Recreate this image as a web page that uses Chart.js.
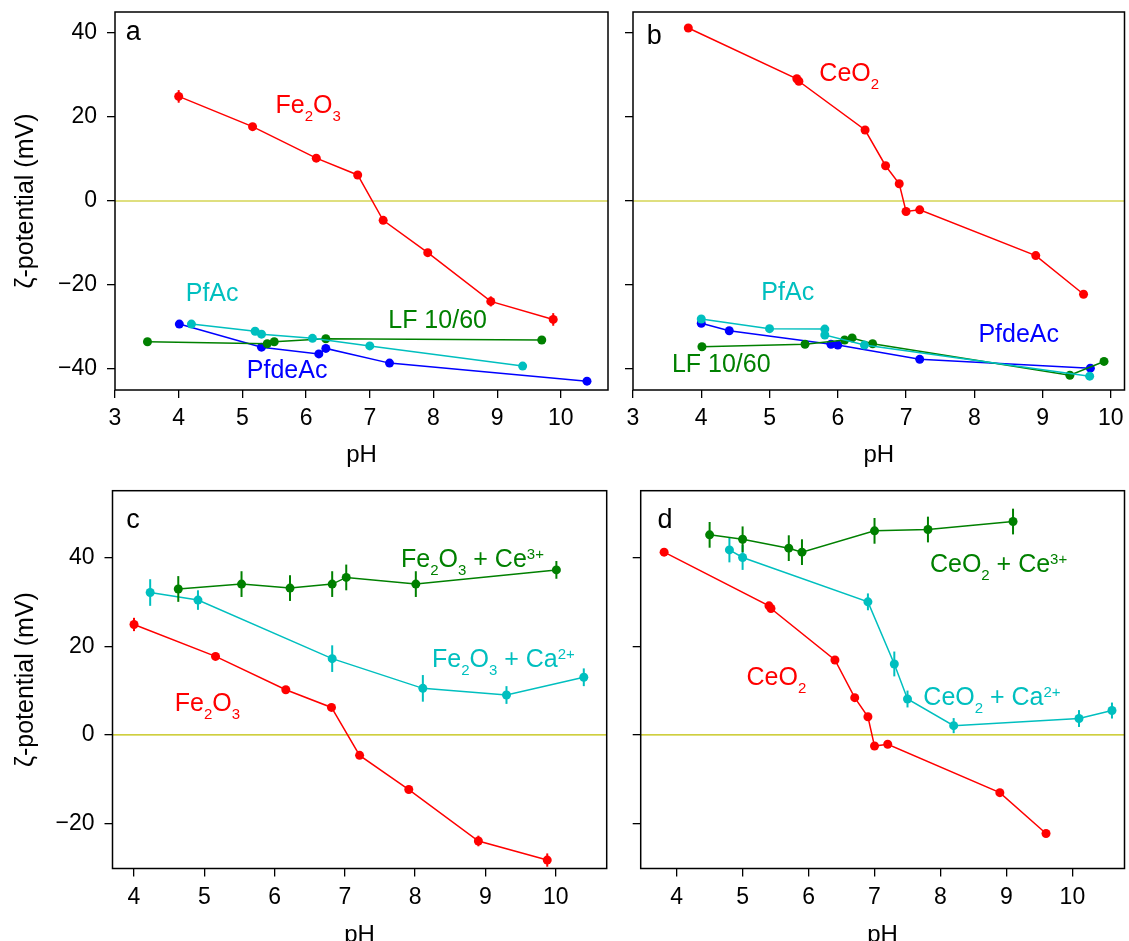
<!DOCTYPE html>
<html>
<head>
<meta charset="utf-8">
<script src="https://cdn.jsdelivr.net/npm/chart.js@4.4.1/dist/chart.umd.min.js"></script>
<style>
  html, body { margin: 0; padding: 0; background: #fff; overflow: hidden; }
  canvas { position: absolute; }
</style>
</head>
<body>
<canvas id="panelA" width="620" height="470" style="left:0px;top:0px"></canvas>
<canvas id="panelB" width="509" height="470" style="left:620px;top:0px"></canvas>
<canvas id="panelC" width="620" height="480" style="left:0px;top:470px"></canvas>
<canvas id="panelD" width="509" height="480" style="left:620px;top:470px"></canvas>
<script>
// ---- data (pH, zeta potential in mV, error in mV) ----
const fe2o3PH   = [4.0, 5.16, 6.16, 6.81, 7.21, 7.91, 8.9, 9.88];
const fe2o3Zeta = [24.9, 17.7, 10.2, 6.2, -4.6, -12.3, -23.9, -28.2];
const fe2o3Err  = [1.5, 0.8, 0.8, 0.8, 0.8, 0.8, 1.2, 1.5];

const ceo2PH   = [3.81, 5.4, 5.43, 6.4, 6.7, 6.9, 7.0, 7.2, 8.9, 9.6];
const ceo2Zeta = [41.2, 29.1, 28.5, 16.9, 8.4, 4.1, -2.5, -2.1, -13.0, -22.2];

// panel a: ligands
const pfacAPH     = [4.2, 5.2, 5.3, 6.1, 7.0, 9.4];
const pfacAZeta   = [-29.3, -31.0, -31.7, -32.7, -34.5, -39.3];
const pfdeacAPH   = [4.01, 5.3, 6.2, 6.31, 7.31, 10.41];
const pfdeacAZeta = [-29.3, -34.8, -36.4, -35.1, -38.6, -42.9];
const lfAPH       = [3.51, 5.39, 5.5, 6.31, 9.7];
const lfAZeta     = [-33.5, -34.0, -33.5, -32.8, -33.1];

// panel b
const pfacBPH     = [4.0, 5.0, 5.81, 5.81, 6.39, 9.69];
const pfacBZeta   = [-28.1, -30.4, -30.5, -31.9, -34.3, -41.7];
const pfdeacBPH   = [4.0, 4.41, 5.9, 6.0, 7.2, 9.7];
const pfdeacBZeta = [-29.1, -30.9, -34.1, -34.3, -37.7, -39.8];
const lfBPH       = [4.01, 5.52, 6.1, 6.21, 6.51, 9.4, 9.9];
const lfBZeta     = [-34.7, -34.1, -33.1, -32.6, -34.0, -41.5, -38.2];

// panel c
const feCePH   = [4.63, 5.53, 6.22, 6.82, 7.02, 8.01, 10.01];
const feCeZeta = [32.9, 34.0, 33.1, 34.0, 35.5, 34.0, 37.2];
const feCeErr  = [2.9, 2.9, 2.9, 2.9, 2.9, 2.9, 2.0];
const feCaPH   = [4.23, 4.91, 6.82, 8.11, 9.3, 10.4];
const feCaZeta = [32.1, 30.4, 17.2, 10.5, 9.0, 13.0];
const feCaErr  = [3.0, 2.2, 3.0, 3.0, 2.0, 2.0];

// panel d
const ceCePH   = [4.5, 5.0, 5.7, 5.9, 7.0, 7.81, 9.1];
const ceCeZeta = [45.1, 44.1, 42.1, 41.2, 46.0, 46.3, 48.1];
const ceCeErr  = [2.9, 2.9, 2.9, 2.9, 2.9, 2.9, 2.9];
const ceCaPH   = [4.8, 5.0, 6.9, 7.3, 7.5, 8.2, 10.1, 10.6];
const ceCaZeta = [41.7, 40.0, 30.0, 16.0, 8.1, 2.1, 3.7, 5.5];
const ceCaErr  = [2.8, 2.8, 1.9, 2.8, 1.9, 1.7, 1.9, 1.8];

const ticksAB_x = [3, 4, 5, 6, 7, 8, 9, 10];
const ticksCD_x = [4, 5, 6, 7, 8, 9, 10];
const ticksAB_y = [-40, -20, 0, 20, 40];
const ticksCD_y = [-20, 0, 20, 40];

const RED = '#ff0000', CYAN = '#00bfbf', GREEN = '#008000', BLUE = '#0000ff';
const FONT = '"Liberation Sans", Arial, Helvetica, sans-serif';

function pts(xs, ys) { return xs.map((x, i) => ({ x: x, y: ys[i] })); }

function series(xs, ys, color, errs) {
  return { data: pts(xs, ys), borderColor: color, backgroundColor: color,
    pointBackgroundColor: color, pointBorderWidth: 0, pointRadius: 4.5,
    borderWidth: 1.5, showLine: true, errors: errs || null };
}

// plugins
const frame = {
  id: 'frame',
  afterDraw(chart) {
    const { ctx, chartArea: a } = chart;
    ctx.save();
    ctx.strokeStyle = '#000'; ctx.lineWidth = 1.5;
    ctx.strokeRect(a.left, a.top, a.right - a.left, a.bottom - a.top);
    ctx.restore();
  }
};
const zeroLine = {
  id: 'zeroLine',
  beforeDatasetsDraw(chart) {
    const { ctx, chartArea: a, scales: { y } } = chart;
    const py = y.getPixelForValue(0);
    ctx.save();
    ctx.strokeStyle = '#bfbf00'; ctx.lineWidth = 1.2;
    ctx.beginPath(); ctx.moveTo(a.left, py); ctx.lineTo(a.right, py); ctx.stroke();
    ctx.restore();
  }
};
const errorBars = {
  id: 'errorBars',
  afterDatasetDraw(chart, args) {
    const ds = chart.data.datasets[args.index];
    if (!ds.errors) return;
    const { ctx, scales: { x, y } } = chart;
    ctx.save();
    ctx.strokeStyle = ds.borderColor; ctx.lineWidth = 2;
    ds.data.forEach((p, j) => {
      const px = x.getPixelForValue(p.x);
      ctx.beginPath();
      ctx.moveTo(px, y.getPixelForValue(p.y - ds.errors[j]));
      ctx.lineTo(px, y.getPixelForValue(p.y + ds.errors[j]));
      ctx.stroke();
    });
    ctx.restore();
  }
};
// text labels with sub/superscripts; parts: [text, 0 normal | -1 sub | 1 sup]
function notes(list) {
  return {
    id: 'notes',
    afterDraw(chart) {
      const { ctx, scales: { x, y } } = chart;
      ctx.save();
      ctx.textBaseline = 'alphabetic'; ctx.textAlign = 'left';
      list.forEach(n => {
        let px = x.getPixelForValue(n.x);
        const py = y.getPixelForValue(n.y);
        ctx.fillStyle = n.color;
        n.parts.forEach(([t, k]) => {
          const size = k === 0 ? (n.size || 25) : 15;
          ctx.font = size + 'px ' + FONT;
          const dy = k === -1 ? 8 : (k === 1 ? -8 : 0);
          ctx.fillText(t, px, py + dy);
          px += ctx.measureText(t).width;
        });
      });
      ctx.restore();
    }
  };
}

function makePanel(id, p) {
  new Chart(document.getElementById(id), {
    type: 'scatter',
    data: { datasets: p.datasets },
    options: {
      responsive: false, animation: false,
      layout: { padding: p.padding },
      plugins: { legend: { display: false }, tooltip: { enabled: false } },
      scales: {
        x: {
          type: 'linear', min: p.xMin, max: p.xMax,
          afterBuildTicks: s => { s.ticks = p.xTicks.map(v => ({ value: v })); },
          afterFit: s => { s.height = p.xHeight; s.paddingLeft = 0; s.paddingRight = 0; },
          grid: { drawOnChartArea: false, drawTicks: true, tickLength: 8, color: '#000', lineWidth: 1.3 },
          border: { display: false },
          ticks: { color: '#000', padding: 7, maxRotation: 0, font: { family: FONT, size: 23 } },
          title: { display: true, text: 'pH', color: '#000', font: { family: FONT, size: 24 }, padding: { top: p.xTitlePad, bottom: 0 } }
        },
        y: {
          type: 'linear', min: p.yMin, max: p.yMax,
          afterBuildTicks: s => { s.ticks = p.yTicks.map(v => ({ value: v })); },
          afterFit: s => { s.width = p.yWidth; s.paddingTop = 0; s.paddingBottom = 0; },
          grid: { drawOnChartArea: false, drawTicks: true, tickLength: 8, color: '#000', lineWidth: 1.3 },
          border: { display: false },
          ticks: { display: p.yLabels, color: '#000', padding: 10, font: { family: FONT, size: 23 },
                   callback: v => String(v).replace('-', '\u2212') },
          title: { display: p.yLabels, text: 'ζ-potential (mV)', color: '#000', font: { family: FONT, size: 25 }, padding: { top: 11, bottom: 0 } }
        }
      }
    },
    plugins: [zeroLine, errorBars, frame, notes(p.notes)]
  });
}

makePanel('panelA', {
  xMin: 3, xMax: 10.74, yMin: -45, yMax: 45, xTicks: ticksAB_x, yTicks: ticksAB_y,
  padding: { left: 0, top: 12, right: 12, bottom: 0 }, yWidth: 115, xHeight: 80, xTitlePad: 3, yLabels: true,
  datasets: [
    series(fe2o3PH, fe2o3Zeta, RED, fe2o3Err),
    series(pfacAPH, pfacAZeta, CYAN),
    series(lfAPH, lfAZeta, GREEN),
    series(pfdeacAPH, pfdeacAZeta, BLUE)
  ],
  notes: [
    { x: 3.17, y: 38.3, color: '#000', size: 27, parts: [['a', 0]] },
    { x: 5.52, y: 20.9, color: RED, parts: [['Fe', 0], ['2', -1], ['O', 0], ['3', -1]] },
    { x: 4.11, y: -23.7, color: CYAN, parts: [['PfAc', 0]] },
    { x: 7.29, y: -30.3, color: GREEN, parts: [['LF 10/60', 0]] },
    { x: 5.07, y: -42.2, color: BLUE, parts: [['PfdeAc', 0]] }
  ]
});

makePanel('panelB', {
  xMin: 3, xMax: 10.2, yMin: -45, yMax: 45, xTicks: ticksAB_x, yTicks: ticksAB_y,
  padding: { left: 0, top: 12, right: 2, bottom: 0 }, yWidth: 13, xHeight: 80, xTitlePad: 3, yLabels: false,
  datasets: [
    series(ceo2PH, ceo2Zeta, RED),
    series(pfacBPH, pfacBZeta, CYAN),
    series(lfBPH, lfBZeta, GREEN),
    series(pfdeacBPH, pfdeacBZeta, BLUE)
  ],
  notes: [
    { x: 3.2, y: 37.5, color: '#000', size: 27, parts: [['b', 0]] },
    { x: 5.73, y: 28.6, color: RED, parts: [['CeO', 0], ['2', -1]] },
    { x: 4.88, y: -23.6, color: CYAN, parts: [['PfAc', 0]] },
    { x: 8.06, y: -33.5, color: BLUE, parts: [['PfdeAc', 0]] },
    { x: 3.57, y: -40.6, color: GREEN, parts: [['LF 10/60', 0]] }
  ]
});

makePanel('panelC', {
  xMin: 3.694, xMax: 10.726, yMin: -30.1, yMax: 55.05, xTicks: ticksCD_x, yTicks: ticksCD_y,
  padding: { left: 0, top: 20.7, right: 13.3, bottom: 0 }, yWidth: 112.5, xHeight: 81.5, xTitlePad: 7, yLabels: true,
  datasets: [
    series(feCePH, feCeZeta, GREEN, feCeErr),
    series(feCaPH, feCaZeta, CYAN, feCaErr),
    series(fe2o3PH, fe2o3Zeta, RED, fe2o3Err)
  ],
  notes: [
    { x: 3.89, y: 46.6, color: '#000', size: 27, parts: [['c', 0]] },
    { x: 7.8, y: 37.9, color: GREEN, parts: [['Fe', 0], ['2', -1], ['O', 0], ['3', -1], [' + Ce', 0], ['3+', 1]] },
    { x: 8.24, y: 15.4, color: CYAN, parts: [['Fe', 0], ['2', -1], ['O', 0], ['3', -1], [' + Ca', 0], ['2+', 1]] },
    { x: 4.58, y: 5.5, color: RED, parts: [['Fe', 0], ['2', -1], ['O', 0], ['3', -1]] }
  ]
});

makePanel('panelD', {
  xMin: 3.455, xMax: 10.79, yMin: -30.1, yMax: 55.05, xTicks: ticksCD_x, yTicks: ticksCD_y,
  padding: { left: 0, top: 20.7, right: 4, bottom: 0 }, yWidth: 20.7, xHeight: 81.5, xTitlePad: 7, yLabels: false,
  datasets: [
    series(ceCePH, ceCeZeta, GREEN, ceCeErr),
    series(ceCaPH, ceCaZeta, CYAN, ceCaErr),
    series(ceo2PH, ceo2Zeta, RED)
  ],
  notes: [
    { x: 3.71, y: 46.6, color: '#000', size: 27, parts: [['d', 0]] },
    { x: 7.84, y: 36.8, color: GREEN, parts: [['CeO', 0], ['2', -1], [' + Ce', 0], ['3+', 1]] },
    { x: 7.74, y: 6.8, color: CYAN, parts: [['CeO', 0], ['2', -1], [' + Ca', 0], ['2+', 1]] },
    { x: 5.06, y: 11.3, color: RED, parts: [['CeO', 0], ['2', -1]] }
  ]
});
</script>
</body>
</html>
